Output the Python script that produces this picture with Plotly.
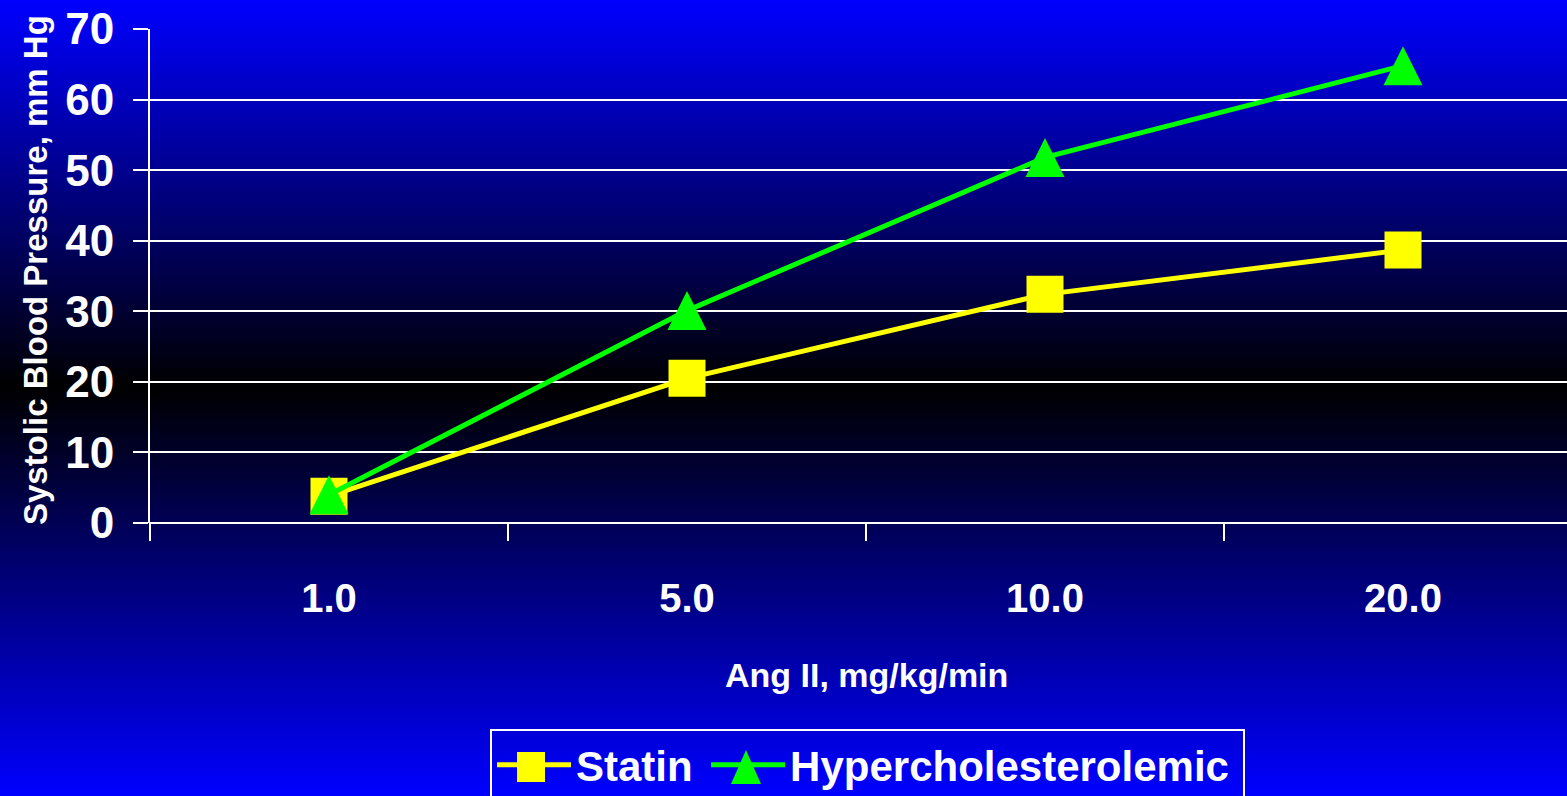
import plotly.graph_objects as go

# Dose categories and mean systolic pressure response per group
doses = ["1.0", "5.0", "10.0", "20.0"]
statin = [3.8, 20.5, 32.4, 38.7]
hyperchol = [4.0, 30.1, 51.8, 64.8]
y_ticks = [0, 10, 20, 30, 40, 50, 60, 70]

W, H = 1567, 796
ML, MR, MT, MB = 150, 0, 29, 273
plot_w = W - ML - MR
plot_h = H - MT - MB
Y_MAX = 70

FONT = "Liberation Sans, Arial, sans-serif"
WHITE = "#FFFFFF"
YELLOW = "#FFFF00"
GREEN = "#00FF00"

TRI_SIZE = 39  # arrow-up marker: apex at the point, so lift it by half its height
tri_lift = (TRI_SIZE / 2) / plot_h * Y_MAX


def px_to_paper_y(p):
    return (H - MB - p) / plot_h


def px_to_paper_x(p):
    return (p - ML) / plot_w


# Vertical background gradient: blue -> black (~y=388px) -> blue
shapes = []
dark_at = 388
step = 2
for top in range(0, H, step):
    mid = top + step / 2
    if mid <= dark_at:
        t = 1 - mid / dark_at
    else:
        t = (mid - dark_at) / (H - dark_at)
    b = int(round(255 * max(0, min(1, t))))
    shapes.append(dict(
        type="rect", xref="paper", yref="paper", layer="below",
        x0=px_to_paper_x(-5), x1=px_to_paper_x(W + 5),
        y0=px_to_paper_y(top + step + 0.6), y1=px_to_paper_y(top - 0.6),
        line=dict(width=0), fillcolor=f"rgb(0,0,{b})",
    ))

# Larger legend symbols drawn over the legend's own small ones
sq_cx, sq_cy, sq_w, sq_h = 531, 767, 28, 30
shapes.append(dict(
    type="rect", xref="paper", yref="paper", layer="above",
    x0=px_to_paper_x(sq_cx - sq_w / 2), x1=px_to_paper_x(sq_cx + sq_w / 2),
    y0=px_to_paper_y(sq_cy + sq_h / 2), y1=px_to_paper_y(sq_cy - sq_h / 2),
    line=dict(width=0), fillcolor=YELLOW,
))
tx, t_top, t_bot, t_half = 746, 750, 784, 15
tri_path = "M {:.5f},{:.5f} L {:.5f},{:.5f} L {:.5f},{:.5f} Z".format(
    px_to_paper_x(tx), px_to_paper_y(t_top),
    px_to_paper_x(tx - t_half), px_to_paper_y(t_bot),
    px_to_paper_x(tx + t_half), px_to_paper_y(t_bot),
)
shapes.append(dict(
    type="path", xref="paper", yref="paper", layer="above",
    path=tri_path, line=dict(width=0), fillcolor=GREEN,
))

fig = go.Figure()
fig.add_trace(go.Scatter(
    x=doses, y=statin, name="Statin\u2009", mode="lines+markers",
    line=dict(color=YELLOW, width=5),
    marker=dict(symbol="square", size=37, color=YELLOW, line=dict(width=0)),
))
fig.add_trace(go.Scatter(
    x=doses, y=hyperchol, name="Hypercholesterolemic\u2009", mode="lines",
    line=dict(color=GREEN, width=5),
))
# Triangle markers for the hypercholesterolemic series (centred on each point)
fig.add_trace(go.Scatter(
    x=doses, y=hyperchol, mode="markers", yaxis="y2", showlegend=False,
    marker=dict(symbol="arrow-up", size=TRI_SIZE, color=GREEN,
                line=dict(width=0)),
))

fig.update_layout(
    width=W, height=H,
    margin=dict(l=ML, r=MR, t=MT, b=MB, autoexpand=False),
    paper_bgcolor="#0000FF",
    plot_bgcolor="rgba(0,0,0,0)",
    shapes=shapes,
    showlegend=True,
    legend=dict(
        orientation="h",
        x=px_to_paper_x(490), xanchor="left",
        y=px_to_paper_y(729), yanchor="top",
        bgcolor="rgba(0,0,0,0)",
        bordercolor=WHITE, borderwidth=2,
        itemwidth=74,
        font=dict(family=FONT, size=42, color=WHITE, weight="bold"),
        traceorder="normal",
    ),
    xaxis=dict(
        type="category",
        range=[-0.5, 3.5 - (ML + 4 * 358 - W) / 358],
        tickson="boundaries",
        ticks="outside", ticklen=17, tickwidth=2, tickcolor=WHITE,
        showgrid=False, showline=False, zeroline=False,
        ticklabelstandoff=48,
        tickfont=dict(family=FONT, size=40, color=WHITE, weight="bold"),
        automargin=False,
    ),
    yaxis=dict(
        range=[0, Y_MAX],
        tickvals=y_ticks,
        ticks="outside", ticklen=15, tickwidth=2, tickcolor=WHITE,
        showgrid=True, gridcolor=WHITE, gridwidth=2,
        zeroline=True, zerolinecolor=WHITE, zerolinewidth=2,
        showline=True, linecolor=WHITE, linewidth=2,
        ticklabelstandoff=10,
        tickfont=dict(family=FONT, size=44, color=WHITE, weight="bold"),
        automargin=False,
    ),
    yaxis2=dict(
        overlaying="y", anchor="x", visible=False,
        range=[-tri_lift, Y_MAX - tri_lift],
    ),
    annotations=[
        dict(text="Systolic Blood Pressure, mm Hg", textangle=-90,
             xref="paper", yref="paper",
             x=px_to_paper_x(35), y=px_to_paper_y(270),
             xanchor="center", yanchor="middle", showarrow=False,
             font=dict(family=FONT, size=33, color=WHITE, weight="bold")),
        dict(text="Ang II, mg/kg/min",
             xref="paper", yref="paper",
             x=px_to_paper_x(866), y=px_to_paper_y(675),
             xanchor="center", yanchor="middle", showarrow=False,
             font=dict(family=FONT, size=34, color=WHITE, weight="bold")),
    ],
)

# Extend the y-axis line down to the bottom tick end
fig.add_shape(type="line", xref="paper", yref="paper",
              x0=0, x1=0, y0=px_to_paper_y(540), y1=0,
              line=dict(color=WHITE, width=2))

fig.write_html("out.html")
